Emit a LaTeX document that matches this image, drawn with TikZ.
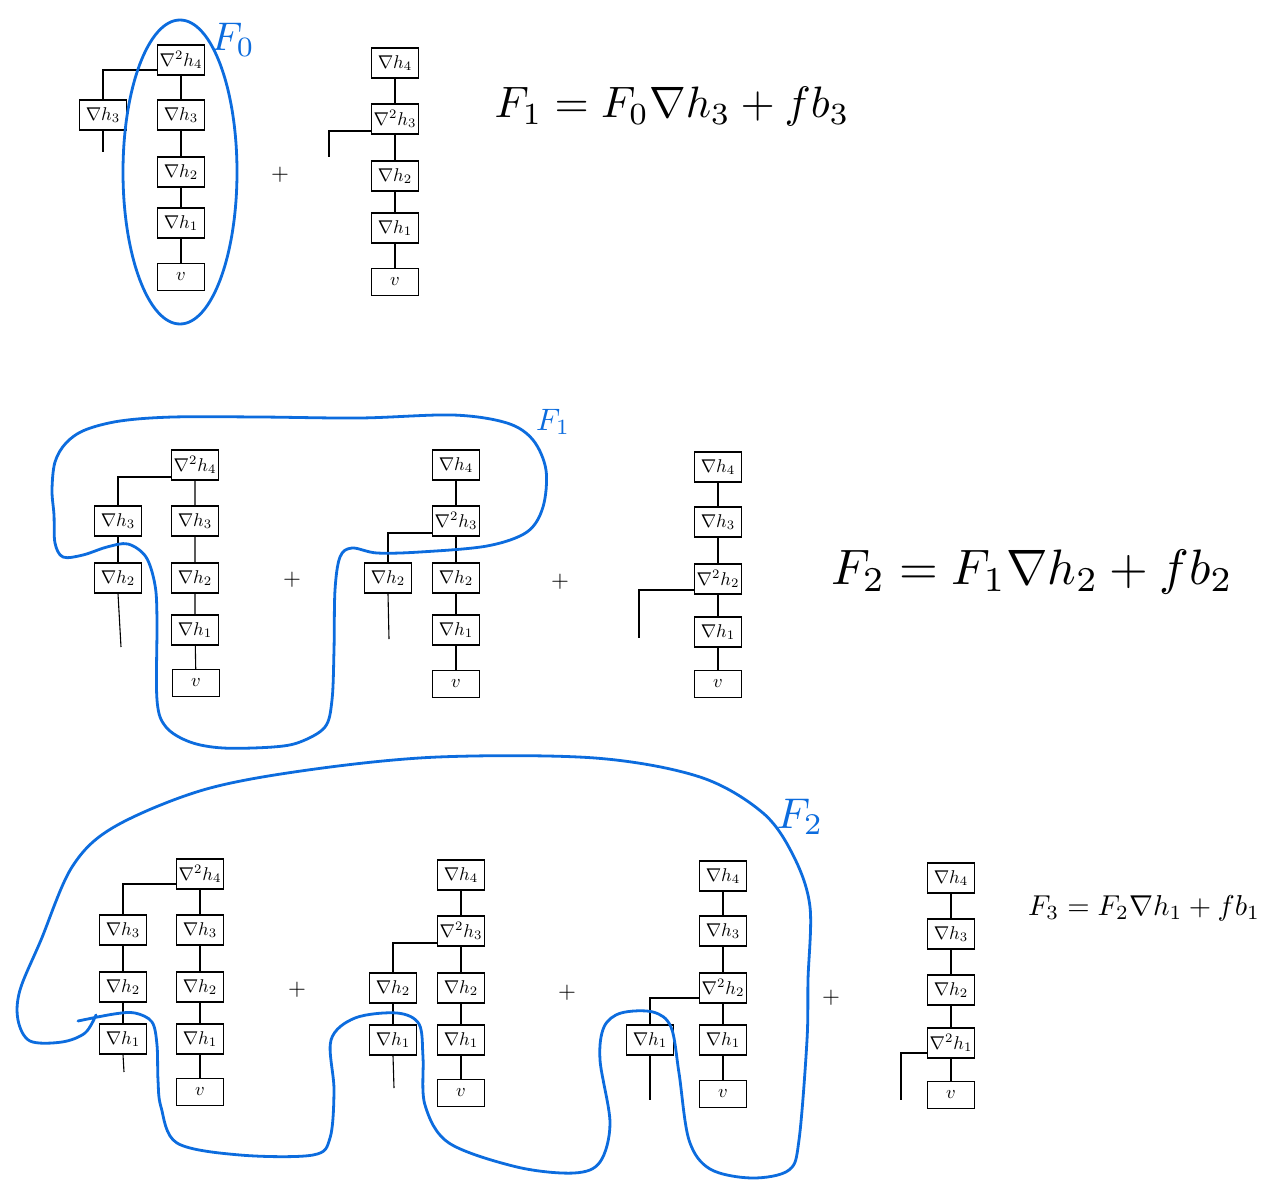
\documentclass[tikz,border=0pt]{standalone}
\usepackage{graphicx}
\definecolor{fblue}{RGB}{12,108,222}
\newcommand\boxlab[1]{\scalebox{1.85}{$#1$}}
\newcommand\plussign{\scalebox{2.3}{$+$}}
\tikzset{
  bx/.style={draw, line width=1.1pt, minimum width=47pt, minimum height=30pt, inner sep=0pt},
  vbx/.style={bx, minimum height=27pt},
  conn/.style={line width=1.1pt},
  blueloop/.style={draw=fblue, line width=2.8pt, line cap=round, line join=round},
  bluelab/.style={text=fblue, inner sep=0pt},
  plus/.style={inner sep=0pt},
  eqn/.style={inner sep=0pt}
}
\begin{document}
\begin{tikzpicture}[x=1pt,y=-1pt]
\fill[white] (0,0) rectangle (1287,1196);
\useasboundingbox (0,0) rectangle (1287,1196);

% ---------- Row 1 ----------
\node[bx] (A1n4) at (181,60) {\boxlab{\nabla^{2} h_4}};
\node[bx] (A1n3) at (181,115) {\boxlab{\nabla h_3}};
\node[bx] (A1n2) at (181,172) {\boxlab{\nabla h_2}};
\node[bx] (A1n1) at (181,223) {\boxlab{\nabla h_1}};
\node[vbx] (A1v) at (181,277) {\boxlab{v}};
\node[bx] (A1L3) at (103,115) {\boxlab{\nabla h_3}};
\coordinate (A1s) at (103,152);
\draw[conn] (A1n4) -- (A1n3) -- (A1n2) -- (A1n1) -- (A1v);
\draw[conn] ([yshift=-10pt]A1n4.west) -| (A1L3.north);
\draw[conn] (A1L3.south) -- (A1s);

\node[bx] (B1n4) at (395,63) {\boxlab{\nabla h_4}};
\node[bx] (B1n3) at (395,119) {\boxlab{\nabla^{2} h_3}};
\node[bx] (B1n2) at (395,176) {\boxlab{\nabla h_2}};
\node[bx] (B1n1) at (395,228) {\boxlab{\nabla h_1}};
\node[vbx] (B1v) at (395,282) {\boxlab{v}};
\coordinate (B1s) at (329,157);
\draw[conn] (B1n4) -- (B1n3) -- (B1n2) -- (B1n1) -- (B1v);
\draw[conn] ([yshift=-12pt]B1n3.west) -| (B1s);

\node[plus] (p11) at (280,175) {\plussign};

\draw[blueloop] (180,172) ellipse [x radius=57, y radius=152];
\node[bluelab] (F0lab) at (233,40) {\scalebox{4}{$F_0$}};

\node[eqn] (eq1) at (672,107) {\resizebox{355pt}{!}{$F_1 = F_0 \nabla h_3 + f b_3$}};

% ---------- Row 2 ----------
\node[bx] (A2n4) at (195,465) {\boxlab{\nabla^{2} h_4}};
\node[bx] (A2n3) at (195,521) {\boxlab{\nabla h_3}};
\node[bx] (A2n2) at (195,578) {\boxlab{\nabla h_2}};
\node[bx] (A2n1) at (195,630) {\boxlab{\nabla h_1}};
\node[vbx] (A2v) at (196,683) {\boxlab{v}};
\node[bx] (A2L3) at (118,521) {\boxlab{\nabla h_3}};
\node[bx] (A2L2) at (118,578) {\boxlab{\nabla h_2}};
\coordinate (A2s) at (121,647);
\draw[conn] (A2n4) -- (A2n3) -- (A2n2) -- (A2n1) -- (A2v);
\draw[conn] ([yshift=-12pt]A2n4.west) -| (A2L3.north);
\draw[conn] (A2L3) -- (A2L2);
\draw[conn] (A2L2.south) -- (A2s);

\node[bx] (B2n4) at (456,465) {\boxlab{\nabla h_4}};
\node[bx] (B2n3) at (456,521) {\boxlab{\nabla^{2} h_3}};
\node[bx] (B2n2) at (456,578) {\boxlab{\nabla h_2}};
\node[bx] (B2n1) at (456,630) {\boxlab{\nabla h_1}};
\node[vbx] (B2v) at (456,684) {\boxlab{v}};
\node[bx] (B2L2) at (388,578) {\boxlab{\nabla h_2}};
\coordinate (B2s) at (389,639);
\draw[conn] (B2n4) -- (B2n3) -- (B2n2) -- (B2n1) -- (B2v);
\draw[conn] ([yshift=-12pt]B2n3.west) -| (B2L2.north);
\draw[conn] (B2L2.south) -- (B2s);

\node[bx] (C2n4) at (718,467) {\boxlab{\nabla h_4}};
\node[bx] (C2n3) at (718,522) {\boxlab{\nabla h_3}};
\node[bx] (C2n2) at (718,579) {\boxlab{\nabla^{2} h_2}};
\node[bx] (C2n1) at (718,632) {\boxlab{\nabla h_1}};
\node[vbx] (C2v) at (718,684) {\boxlab{v}};
\coordinate (C2s) at (639,638);
\draw[conn] (C2n4) -- (C2n3) -- (C2n2) -- (C2n1) -- (C2v);
\draw[conn] ([yshift=-11pt]C2n2.west) -| (C2s);

\node[plus] (p21) at (292,580) {\plussign};
\node[plus] (p22) at (560,582) {\plussign};

\draw[blueloop] plot[smooth cycle, tension=0.55] coordinates {
 (54,515) (52,490) (55,462) (66,443) (85,430) (120,421) (173,417) (260,417)
 (360,418) (453,415) (507,423) (533,440) (546,470) (543,507) (527,532)
 (487,546) (420,552) (377,553) (352,548) (340,557) (335,590) (334,650)
 (332,700) (325,727) (300,742) (273,747) (223,748) (190,742) (166,727)
 (157,700) (157,620) (155,585) (146,557) (128,544) (107,547) (83,555)
 (63,557) (55,543)};
\node[bluelab] (F1lab) at (553,422) {\scalebox{3.1}{$F_1$}};

\node[eqn] (eq2) at (1032,572) {\resizebox{402pt}{!}{$F_2 = F_1 \nabla h_2 + f b_2$}};

% ---------- Row 3 ----------
\node[bx] (A3n4) at (200,874) {\boxlab{\nabla^{2} h_4}};
\node[bx] (A3n3) at (200,930) {\boxlab{\nabla h_3}};
\node[bx] (A3n2) at (200,987) {\boxlab{\nabla h_2}};
\node[bx] (A3n1) at (200,1039) {\boxlab{\nabla h_1}};
\node[vbx] (A3v) at (200,1092) {\boxlab{v}};
\node[bx] (A3L3) at (123,930) {\boxlab{\nabla h_3}};
\node[bx] (A3L2) at (123,987) {\boxlab{\nabla h_2}};
\node[bx] (A3L1) at (123,1039) {\boxlab{\nabla h_1}};
\coordinate (A3s) at (124,1072);
\draw[conn] (A3n4) -- (A3n3) -- (A3n2) -- (A3n1) -- (A3v);
\draw[conn] ([yshift=-10pt]A3n4.west) -| (A3L3.north);
\draw[conn] (A3L3) -- (A3L2) -- (A3L1);
\draw[conn] (A3L1.south) -- (A3s);

\node[bx] (B3n4) at (461,875) {\boxlab{\nabla h_4}};
\node[bx] (B3n3) at (461,931) {\boxlab{\nabla^{2} h_3}};
\node[bx] (B3n2) at (461,988) {\boxlab{\nabla h_2}};
\node[bx] (B3n1) at (461,1040) {\boxlab{\nabla h_1}};
\node[vbx] (B3v) at (461,1093) {\boxlab{v}};
\node[bx] (B3L2) at (393,988) {\boxlab{\nabla h_2}};
\node[bx] (B3L1) at (393,1040) {\boxlab{\nabla h_1}};
\coordinate (B3s) at (394,1088);
\draw[conn] (B3n4) -- (B3n3) -- (B3n2) -- (B3n1) -- (B3v);
\draw[conn] ([yshift=-12pt]B3n3.west) -| (B3L2.north);
\draw[conn] (B3L2) -- (B3L1);
\draw[conn] (B3L1.south) -- (B3s);

\node[bx] (C3n4) at (723,876) {\boxlab{\nabla h_4}};
\node[bx] (C3n3) at (723,931) {\boxlab{\nabla h_3}};
\node[bx] (C3n2) at (723,988) {\boxlab{\nabla^{2} h_2}};
\node[bx] (C3n1) at (723,1040) {\boxlab{\nabla h_1}};
\node[vbx] (C3v) at (723,1094) {\boxlab{v}};
\node[bx] (C3L1) at (650,1040) {\boxlab{\nabla h_1}};
\coordinate (C3s) at (650,1100);
\draw[conn] (C3n4) -- (C3n3) -- (C3n2) -- (C3n1) -- (C3v);
\draw[conn] ([yshift=-10pt]C3n2.west) -| (C3L1.north);
\draw[conn] (C3L1.south) -- (C3s);

\node[bx] (D3n4) at (951,878) {\boxlab{\nabla h_4}};
\node[bx] (D3n3) at (951,934) {\boxlab{\nabla h_3}};
\node[bx] (D3n2) at (951,990) {\boxlab{\nabla h_2}};
\node[bx] (D3n1) at (951,1043) {\boxlab{\nabla^{2} h_1}};
\node[vbx] (D3v) at (951,1095) {\boxlab{v}};
\coordinate (D3s) at (901,1100);
\draw[conn] (D3n4) -- (D3n3) -- (D3n2) -- (D3n1) -- (D3v);
\draw[conn] ([yshift=-10pt]D3n1.west) -| (D3s);

\node[plus] (p31) at (297,990) {\plussign};
\node[plus] (p32) at (567,993) {\plussign};
\node[plus] (p33) at (831,998) {\plussign};

\draw[blueloop] plot[smooth, tension=0.55] coordinates {
 (78,1021) (114,1014) (135,1013) (152,1022) (157,1045) (158,1080) (161,1107)
 (177,1143) (240,1155) (313,1155) (330,1138) (334,1090) (331,1040)
 (355,1018) (397,1013) (419,1024) (423,1057) (425,1105) (449,1143)
 (517,1167) (574,1173) (600,1162) (610,1123) (600,1060) (604,1027)
 (621,1013) (653,1012) (671,1027) (679,1073) (689,1140) (710,1169)
 (752,1178) (789,1170) (799,1140) (807,1040) (808,980) (810,907)
 (794,857) (763,813) (700,777) (595,758) (438,757) (308,770) (203,790)
 (114,827) (72,867) (41,940) (20,990) (18,1020) (30,1041) (62,1042)
 (85,1033) (96,1015)};
\node[bluelab] (F2lab) at (800,817) {\scalebox{4.3}{$F_2$}};

\node[eqn] (eq3) at (1144,908) {\resizebox{232pt}{!}{$F_3 = F_2 \nabla h_1 + f b_1$}};
\end{tikzpicture}
\end{document}
